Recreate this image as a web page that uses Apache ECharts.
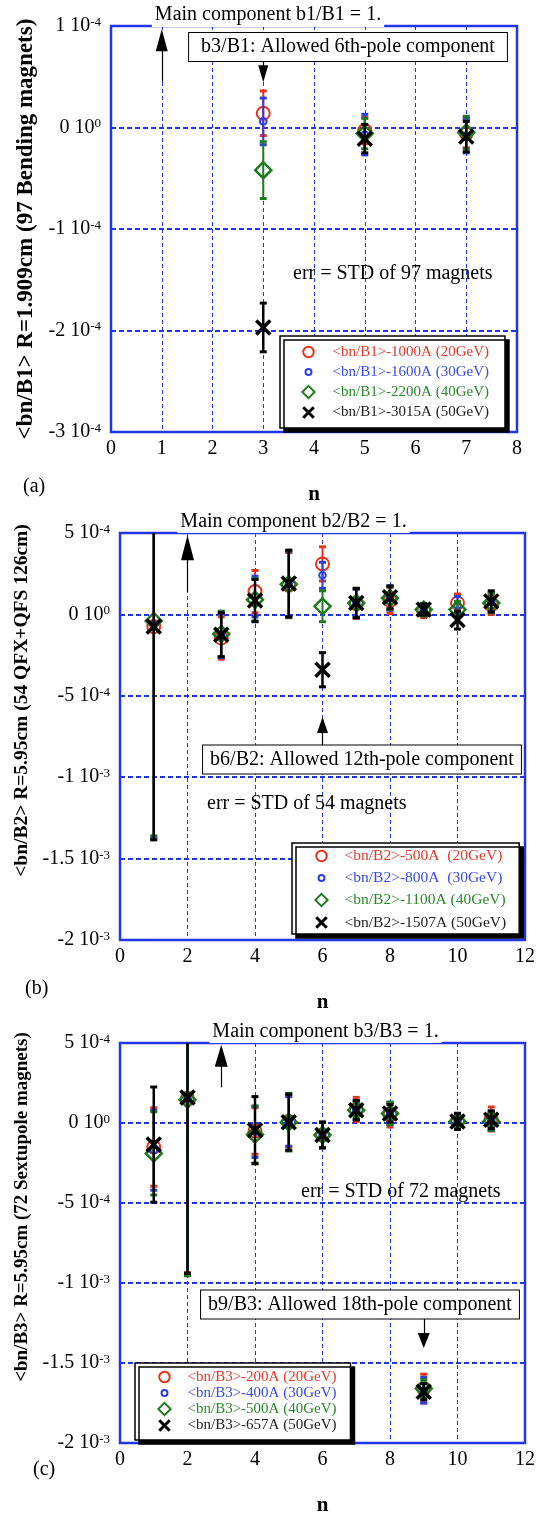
<!DOCTYPE html>
<html>
<head>
<meta charset="utf-8">
<script src="https://cdn.jsdelivr.net/npm/echarts@6/dist/echarts.min.js"></script>
<style>
  html, body { margin: 0; padding: 0; background: #fff; }
  #chart { width: 538px; height: 1517px; }
</style>
</head>
<body>
<div id="chart"></div>
<script>
// all multipole values are in units of 1e-4
// ---- panel (a) <bn/B1>
const nA = [3, 5, 7];
const a1000 = [0.14, -0.03, -0.06], a1000Err = [0.22, 0.13, 0.14];
const a1600 = [0.06, -0.07, -0.08], a1600Err = [0.23, 0.2, 0.17];
const a2200 = [-0.42, -0.06, -0.05], a2200Err = [0.28, 0.15, 0.16];
const a3015 = [-1.97, -0.11, -0.09], a3015Err = [0.24, 0.14, 0.15];

// ---- panel (b) <bn/B2>
const nB = [1, 3, 4, 5, 6, 7, 8, 9, 10, 11];
const b500 = [-0.75, -1.45, 1.4, 1.8, 3.1, 0.65, 0.85, 0.2, 0.7, 0.6];
const b500Err = [13.0, 1.3, 1.3, 2.0, 1.05, 0.9, 0.8, 0.4, 0.55, 0.6];
const b800 = [-0.6, -1.3, 1.1, 1.85, 2.4, 0.7, 1.0, 0.3, 0.55, 0.75];
const b800Err = [13.1, 1.35, 1.25, 2.0, 0.8, 0.85, 0.75, 0.35, 0.55, 0.6];
const b1100 = [-0.4, -1.2, 0.9, 1.85, 0.5, 0.7, 1.0, 0.3, 0.3, 0.7];
const b1100Err = [13.2, 1.4, 1.3, 2.05, 0.95, 0.9, 0.7, 0.35, 0.5, 0.6];
const b1507 = [-0.75, -1.25, 0.85, 1.9, -3.4, 0.7, 1.05, 0.3, -0.35, 0.8];
const b1507Err = [13.1, 1.35, 1.3, 2.05, 1.05, 0.9, 0.7, 0.35, 0.55, 0.65];

// ---- panel (c) <bn/B3>
const nC = [1, 2, 4, 5, 6, 7, 8, 9, 10, 11];
const c200 = [-1.5, 1.55, -0.5, 0.1, -0.75, 0.85, 0.5, -16.6, 0.1, 0.25];
const c200Err = [2.45, 10.9, 1.45, 1.6, 0.8, 0.75, 0.75, 0.9, 0.5, 0.75];
const c400 = [-1.7, 1.5, -0.55, 0.1, -0.75, 0.8, 0.6, -16.7, 0.1, 0.15];
const c400Err = [2.5, 10.9, 1.6, 1.55, 0.8, 0.6, 0.7, 0.8, 0.5, 0.6];
const c500 = [-1.9, 1.45, -0.72, 0.05, -0.75, 0.8, 0.6, -16.6, 0.1, 0.1];
const c500Err = [2.6, 11.0, 1.78, 1.8, 0.8, 0.5, 0.7, 0.55, 0.5, 0.55];
const c657 = [-1.35, 1.6, -0.45, 0.05, -0.75, 0.8, 0.6, -16.8, 0.1, 0.2];
const c657Err = [3.6, 11.0, 2.1, 1.75, 0.8, 0.6, 0.55, 0.5, 0.5, 0.55];

const namesA = ['<bn/B1>-1000A (20GeV)', '<bn/B1>-1600A (30GeV)', '<bn/B1>-2200A (40GeV)', '<bn/B1>-3015A (50GeV)'];
const namesB = ['<bn/B2>-500A  (20GeV)', '<bn/B2>-800A  (30GeV)', '<bn/B2>-1100A (40GeV)', '<bn/B2>-1507A (50GeV)'];
const namesC = ['<bn/B3>-200A (20GeV)', '<bn/B3>-400A (30GeV)', '<bn/B3>-500A (40GeV)', '<bn/B3>-657A (50GeV)'];

// arrows: [n, line start, head centre, head width, head height]
const arrowsA = [[1, 0.45, 0.86, 12, 22], [3, 0.655, 0.53, 10, 17]];
const arrowsB = [[2, 1.38, 4.1, 13, 25], [6, -8.0, -6.8, 11, 16]];
const arrowsC = [[3, 2.23, 4.2, 13, 22], [9, -12.05, -13.6, 12, 15]];

const SERIF = '"Liberation Serif", "Times New Roman", serif';
const BLUE = '#2236e8';
const COLORS = ['#e8321e', '#2c3ee6', '#1e7a1e', '#000000'];
const TEXT_COLORS = ['#e03a2a', '#3b4be8', '#2a8a2a', '#222222'];
const KINDS = ['circle', 'small', 'diamond', 'x'];
const ICONS = [
  'path://M0,0 M16,16 M2,8 A6,6,0,1,1,14,8 A6,6,0,1,1,2,8 Z',
  'path://M0,0 M16,16 M4.6,8 A3.4,3.4,0,1,1,11.4,8 A3.4,3.4,0,1,1,4.6,8 Z',
  'path://M0,0 M16,16 M8,1 L15,8 L8,15 L1,8 Z',
  'path://M0,0 M16,16 M2,2 L14,14 M14,2 L2,14'
];

function sciLabel(v) {
  if (Math.abs(v) < 1e-9) return '0 10{s|0}';
  if (Math.abs(v) >= 10) return (+(v / 10).toFixed(2)) + ' 10{s|-3}';
  return (+v.toFixed(2)) + ' 10{s|-4}';
}

function marker(kind, c, color) {
  const cx = c[0], cy = c[1];
  if (kind === 'circle') return [{type: 'circle', shape: {cx, cy, r: 6.5}, style: {fill: 'none', stroke: color, lineWidth: 2}}];
  if (kind === 'small') return [{type: 'circle', shape: {cx, cy, r: 3.3}, style: {fill: 'none', stroke: color, lineWidth: 2}}];
  if (kind === 'diamond') return [{type: 'polygon', shape: {points: [[cx, cy - 8], [cx + 8, cy], [cx, cy + 8], [cx - 8, cy]]}, style: {fill: 'none', stroke: color, lineWidth: 2.5}}];
  return [
    {type: 'line', shape: {x1: cx - 7, y1: cy - 7, x2: cx + 7, y2: cy + 7}, style: {stroke: color, lineWidth: 3.5}},
    {type: 'line', shape: {x1: cx + 7, y1: cy - 7, x2: cx - 7, y2: cy + 7}, style: {stroke: color, lineWidth: 3.5}}
  ];
}

function errRenderer(kind, color) {
  return function (params, api) {
    const x = api.value(0), m = api.value(1), e = api.value(2);
    const cs = params.coordSys;
    const yTop = cs.y, yBot = cs.y + cs.height;
    const c = api.coord([x, m]);
    const t = api.coord([x, m + e])[1];
    const b = api.coord([x, m - e])[1];
    const children = [{
      type: 'line',
      shape: {x1: c[0], y1: Math.max(t, yTop), x2: c[0], y2: Math.min(b, yBot)},
      style: {stroke: color, lineWidth: kind === 'x' ? 2.5 : 2}
    }];
    [t, b].forEach(function (yy) {
      if (yy >= yTop && yy <= yBot) {
        children.push({type: 'rect', shape: {x: c[0] - 3.5, y: yy - 1.5, width: 7, height: 3}, style: {fill: color}});
      }
    });
    return {type: 'group', children: children.concat(marker(kind, c, color))};
  };
}

function arrowLines(list) {
  return list.map(function (a) {
    return [{coord: [a[0], a[1]], symbol: 'none'}, {coord: [a[0], a[2]], symbol: 'triangle', symbolSize: [a[3], a[4]]}];
  });
}

function panelSeries(gi, names, nList, means, errs, arrows) {
  return means.map(function (mean, i) {
    const s = {
      name: names[i],
      type: 'custom',
      xAxisIndex: gi,
      yAxisIndex: gi,
      itemStyle: {color: COLORS[i]},
      renderItem: errRenderer(KINDS[i], COLORS[i]),
      encode: {x: 0, y: 1},
      data: nList.map(function (n, k) { return [n, mean[k], errs[i][k]]; })
    };
    if (i === 3) {
      s.markLine = {
        silent: true,
        animation: false,
        symbol: ['none', 'triangle'],
        label: {show: false},
        emphasis: {disabled: true},
        lineStyle: {color: '#000', width: 1.2, type: 'solid'},
        data: arrowLines(arrows)
      };
    }
    return s;
  });
}

function legendFor(names, left, top, gap, pad, itemW, fontSize, lineH) {
  return {
    left: left, top: top, orient: 'vertical',
    itemWidth: itemW, itemHeight: 14, itemGap: gap,
    padding: pad,
    backgroundColor: '#fff', borderColor: '#000', borderWidth: 1.5,
    shadowColor: '#000', shadowOffsetX: 4, shadowOffsetY: 4, shadowBlur: 0,
    selectedMode: false,
    textStyle: {fontFamily: SERIF, fontSize: fontSize, lineHeight: lineH},
    data: names.map(function (nm, i) {
      return {
        name: nm,
        icon: ICONS[i],
        itemStyle: {color: 'rgba(0,0,0,0)', borderColor: COLORS[i], borderWidth: i === 3 ? 3 : 2},
        textStyle: {color: TEXT_COLORS[i]}
      };
    })
  };
}

function xAxisFor(gi, max, interval) {
  return {
    type: 'value', gridIndex: gi, min: 0, max: max, interval: interval,
    axisLine: {show: false}, axisTick: {show: false},
    splitLine: {show: true, lineStyle: {color: BLUE, width: 1, type: [4, 3]}},
    axisLabel: {fontSize: 20, fontFamily: SERIF, color: '#000', margin: 7},
    name: 'n', nameLocation: 'middle', nameGap: 52,
    nameTextStyle: {fontSize: 21, fontWeight: 'bold', fontFamily: SERIF, color: '#000'}
  };
}

function yAxisFor(gi, min, max, interval, name, gap, fontSize, pad) {
  return {
    type: 'value', gridIndex: gi, min: min, max: max, interval: interval,
    axisLine: {show: false}, axisTick: {show: false},
    splitLine: {show: true, lineStyle: {color: BLUE, width: 2, type: [5, 3]}},
    axisLabel: {
      formatter: sciLabel, fontSize: 20, fontFamily: SERIF, color: '#000', margin: 10,
      showMinLabel: true, showMaxLabel: true,
      rich: {s: {fontSize: 13, fontFamily: SERIF, color: '#000', verticalAlign: 'top'}}
    },
    name: name, nameLocation: 'middle', nameRotate: 90, nameGap: gap,
    nameTextStyle: {fontSize: fontSize, fontWeight: 'bold', fontFamily: SERIF, color: '#000', padding: pad}
  };
}

function txt(x, y, text, align, extra) {
  return {
    type: 'text', x: x, y: y, z: 100,
    style: Object.assign({text: text, font: '20px ' + SERIF, fill: '#000', align: align, verticalAlign: 'middle'}, extra || {})
  };
}

const boxStyle = function (p) { return {backgroundColor: '#fff', borderColor: '#000', borderWidth: 1, padding: p}; };

const option = {
  animation: false,
  backgroundColor: '#fff',
  grid: [
    {left: 111, top: 26, width: 406, height: 406, show: true, borderColor: BLUE, borderWidth: 2.5},
    {left: 120, top: 533, width: 406, height: 407, show: true, borderColor: BLUE, borderWidth: 2.5},
    {left: 120, top: 1043, width: 406, height: 406, show: true, borderColor: BLUE, borderWidth: 2.5}
  ],
  xAxis: [xAxisFor(0, 8, 1), xAxisFor(1, 12, 2), xAxisFor(2, 12, 2)],
  yAxis: [
    yAxisFor(0, -3, 1, 1, '<bn/B1> R=1.909cm (97 Bending magnets)', 71, 23, [0, 0, 0, 0]),
    yAxisFor(1, -20, 5, 5, '<bn/B2> R=5.95cm (54 QFX+QFS 126cm)', 78, 19.5, [0, 0, 0, 72]),
    yAxisFor(2, -20, 5, 5, '<bn/B3> R=5.95cm (72 Sextupole magnets)', 78, 19, [0, 0, 0, 72])
  ],
  legend: [
    legendFor(namesA, 280, 336, 4, [8, 16, 7, 20], 38, 15, 15),
    legendFor(namesB, 292, 843, 6, [5, 13, 3, 21], 36, 15.5, 15),
    legendFor(namesC, 135, 1363, 0, [6, 14, 6, 21], 36, 15, 14.7)
  ],
  graphic: [
    txt(268, 15, 'Main component b1/B1 = 1.', 'center', {backgroundColor: '#fff', padding: [2, 3]}),
    txt(348, 47, 'b3/B1: Allowed 6th-pole component', 'center', boxStyle([4, 12])),
    txt(293, 274, 'err = STD of 97 magnets', 'left'),
    txt(23, 487, '(a)', 'left'),
    txt(293.5, 522, 'Main component b2/B2 = 1.', 'center', {backgroundColor: '#fff', padding: [1, 3]}),
    txt(362, 759.5, 'b6/B2: Allowed 12th-pole component', 'center', boxStyle([4, 7])),
    txt(207, 804, 'err = STD of 54 magnets', 'left'),
    txt(25, 989, '(b)', 'left'),
    txt(325.5, 1032, 'Main component b3/B3 = 1.', 'center', {backgroundColor: '#fff', padding: [1, 3]}),
    txt(360, 1304.5, 'b9/B3: Allowed 18th-pole component', 'center', boxStyle([4, 7])),
    txt(301, 1192, 'err = STD of 72 magnets', 'left'),
    txt(33, 1470, '(c)', 'left')
  ],
  series: []
    .concat(panelSeries(0, namesA, nA, [a1000, a1600, a2200, a3015], [a1000Err, a1600Err, a2200Err, a3015Err], arrowsA))
    .concat(panelSeries(1, namesB, nB, [b500, b800, b1100, b1507], [b500Err, b800Err, b1100Err, b1507Err], arrowsB))
    .concat(panelSeries(2, namesC, nC, [c200, c400, c500, c657], [c200Err, c400Err, c500Err, c657Err], arrowsC))
};

const myChart = echarts.init(document.getElementById('chart'));
myChart.setOption(option);
</script>
</body>
</html>
